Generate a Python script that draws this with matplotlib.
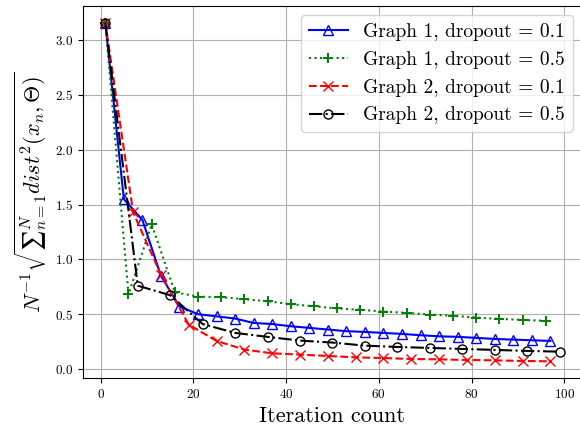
import matplotlib
matplotlib.use('Agg')
import matplotlib.pyplot as plt

plt.rcParams['font.family'] = 'serif'
plt.rcParams['font.serif'] = ['cmr10']
plt.rcParams['mathtext.fontset'] = 'cm'
plt.rcParams['axes.formatter.use_mathtext'] = True
plt.rcParams['axes.unicode_minus'] = False

# graph 1, dropout 0.1 (every 4 iterations)
x_g1_01 = list(range(1, 98, 4))
y_g1_01 = [3.16, 1.55, 1.36, 0.85, 0.57, 0.50, 0.48, 0.46, 0.42, 0.41, 0.39, 0.375,
           0.36, 0.345, 0.338, 0.329, 0.32, 0.308, 0.298, 0.293, 0.284, 0.274, 0.268,
           0.262, 0.256]

# graph 1, dropout 0.5 (every 5 iterations)
x_g1_05 = list(range(1, 97, 5))
y_g1_05 = [3.16, 0.68, 1.32, 0.70, 0.66, 0.655, 0.637, 0.618, 0.591, 0.572, 0.552,
           0.54, 0.524, 0.512, 0.497, 0.485, 0.469, 0.457, 0.448, 0.439]

# graph 2, dropout 0.1 (every 6 iterations)
x_g2_01 = list(range(1, 98, 6))
y_g2_01 = [3.16, 1.43, 0.86, 0.405, 0.256, 0.177, 0.143, 0.131, 0.119, 0.106, 0.10,
           0.091, 0.088, 0.082, 0.079, 0.073, 0.07]

# graph 2, dropout 0.5 (every 7 iterations)
x_g2_05 = list(range(1, 100, 7))
y_g2_05 = [3.16, 0.76, 0.673, 0.41, 0.329, 0.293, 0.259, 0.241, 0.213, 0.201, 0.192,
           0.183, 0.174, 0.165, 0.158]

fig = plt.figure(figsize=(5.8, 4.25), dpi=100)
ax = fig.add_axes([0.1424, 0.11, 0.8616, 0.8767])

ax.plot(x_g1_01, y_g1_01, 'b-', marker='^', mfc='none', ms=6.5, lw=1.5,
        label='Graph 1, dropout = 0.1')
ax.plot(x_g1_05, y_g1_05, 'g:', marker='+', ms=7, mew=1.4, lw=1.5,
        label='Graph 1, dropout = 0.5')
ax.plot(x_g2_01, y_g2_01, 'r--', marker='x', ms=7, lw=1.5,
        label='Graph 2, dropout = 0.1')
ax.plot(x_g2_05, y_g2_05, 'k-.', marker='o', mfc='none', ms=6.5, lw=1.5,
        label='Graph 2, dropout = 0.5')

ax.grid(True)
ax.tick_params(labelsize=9.5)
ax.set_xlabel('Iteration count', fontsize=16)
# unicode sum sign keeps the limits at the side, like LaTeX text style
ax.set_ylabel('$N^{-1}\\sqrt{\u2211_{n=1}^{N} dist^2(x_n,\\Theta)}$', fontsize=16)
ax.legend(loc='upper right', fontsize=14)

fig.savefig('out.png', dpi=100)
